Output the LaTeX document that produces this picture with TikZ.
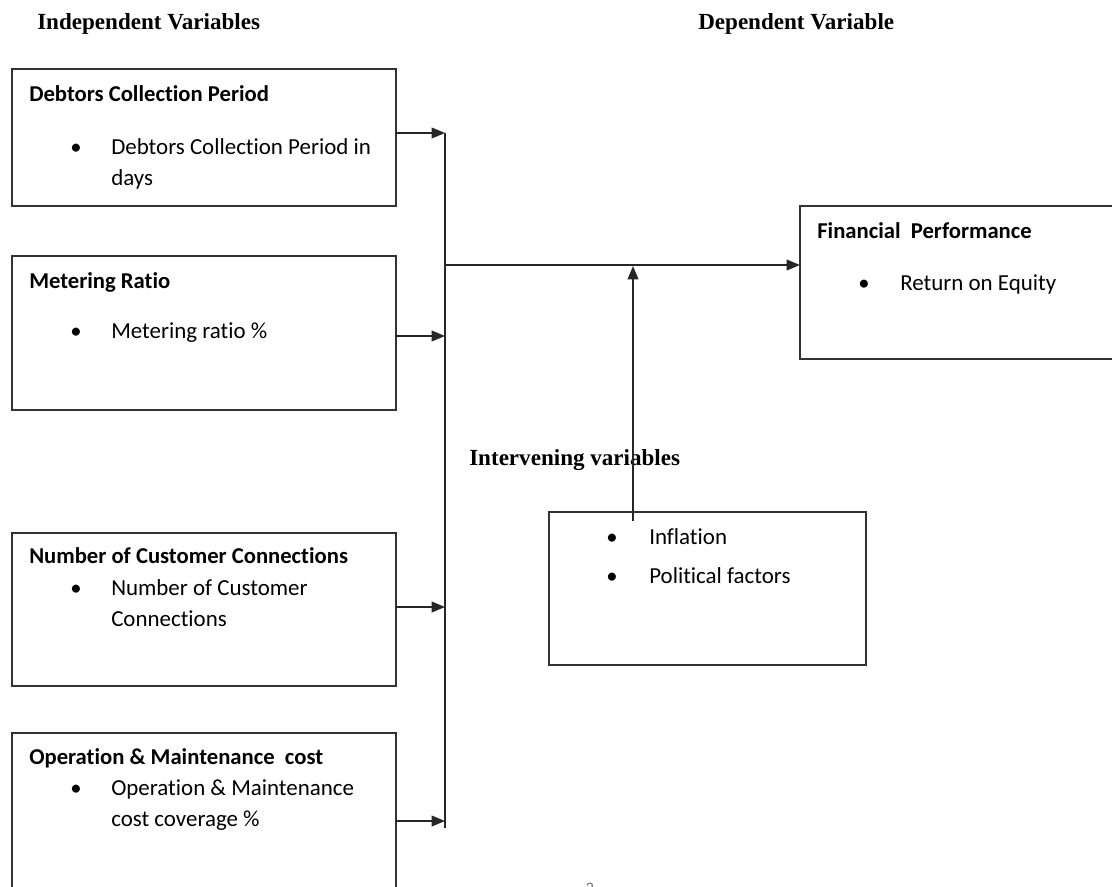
\documentclass[tikz,border=0pt]{standalone}
\usepackage{fontspec}
\setmainfont{Carlito}[Ligatures=NoCommon]
\newfontfamily\titlefont{Liberation Serif}
\usetikzlibrary{arrows.meta}
\begin{document}
\begin{tikzpicture}[x=0.75pt,y=-0.75pt,
  box/.style={draw=black!80, line width=1.3pt, anchor=north west, inner sep=0pt, outer sep=0pt},
  ln/.style={draw=black!85, line width=1.3pt},
  arr/.style={ln, -{Triangle[length=10pt,width=8pt]}},
  head/.style={anchor=base west, inner sep=0pt, font=\titlefont\bfseries\fontsize{17.3}{20}\selectfont},
  ttl/.style={anchor=base west, inner sep=0pt, font=\bfseries\fontsize{17}{20}\selectfont},
  txt/.style={anchor=base west, inner sep=0pt, font=\fontsize{17.2}{20}\selectfont},
  bul/.style={anchor=base, inner sep=0pt, font=\fontsize{17}{20}\selectfont},
]
\path[use as bounding box] (0,0) rectangle (1112,886);
\clip (0,0) rectangle (1112,886);

% headings
\node[head] (hind) at (37,29) {Independent Variables};
\node[head] (hdep) at (698,29) {Dependent Variable};
\node[head] (hint) at (469,465) {Intervening variables};

% boxes
\node[box, minimum width=288pt, minimum height=102.75pt] (b1) at (12,69) {};
\node[box, minimum width=288pt, minimum height=115.5pt] (b2) at (12,256) {};
\node[box, minimum width=288pt, minimum height=114.75pt] (b3) at (12,533) {};
\node[box, minimum width=288pt, minimum height=120pt] (b4) at (12,733) {};
\node[box, minimum width=240pt, minimum height=114.75pt] (fp) at (800,206) {};
\node[box, minimum width=237.75pt, minimum height=114.75pt] (iv) at (549,512) {};

% box 1
\node[ttl] (t1) at (29,101) {Debtors Collection Period};
\node[bul] (u1) at (76,154) {\textbullet};
\node[txt] (x1a) at (111,154) {Debtors Collection Period in};
\node[txt] (x1b) at (111,185) {days};
% box 2
\node[ttl] (t2) at (29,288) {Metering Ratio};
\node[bul] (u2) at (76,338) {\textbullet};
\node[txt] (x2a) at (111,338) {Metering ratio \%};
% box 3
\node[ttl] (t3) at (29,563) {Number of Customer Connections};
\node[bul] (u3) at (76,595) {\textbullet};
\node[txt] (x3a) at (111,595) {Number of Customer};
\node[txt] (x3b) at (111,626) {Connections};
% box 4
\node[ttl] (t4) at (29,764) {Operation \& Maintenance\ \ cost};
\node[bul] (u4) at (76,795) {\textbullet};
\node[txt] (x4a) at (111,795) {Operation \& Maintenance};
\node[txt] (x4b) at (111,826) {cost coverage \%};
% financial performance
\node[ttl] (t5) at (817,238) {Financial\ \ Performance};
\node[bul] (u5) at (864,290) {\textbullet};
\node[txt] (x5a) at (900,290) {Return on Equity};
% intervening
\node[bul] (u6) at (612,544) {\textbullet};
\node[txt] (x6a) at (649,544) {Inflation};
\node[bul] (u7) at (612,583) {\textbullet};
\node[txt] (x7a) at (649,583) {Political factors};

% page number (cut off at the bottom edge, as in the reference)
\node[anchor=base, inner sep=0pt, text=black!55, font=\fontsize{12}{14}\selectfont] (pg) at (590,893) {2};

% connectors
\coordinate (bt) at (445,133);
\coordinate (bb) at (445,828);
\coordinate (j2) at (445,336);
\coordinate (j3) at (445,607);
\coordinate (j4) at (445,821);
\coordinate (jm) at (445,265);
\coordinate (vt) at (633,266);
\coordinate (vs) at (633,521);
\draw[ln] (bt) -- (bb);
\draw[arr] (b1.east |- bt) -- (bt);
\draw[arr] (b2.east |- j2) -- (j2);
\draw[arr] (b3.east |- j3) -- (j3);
\draw[arr] (b4.east |- j4) -- (j4);
\draw[arr] (jm) -- (fp.west |- jm);
\draw[arr] (vs) -- (vt);
\end{tikzpicture}
\end{document}
